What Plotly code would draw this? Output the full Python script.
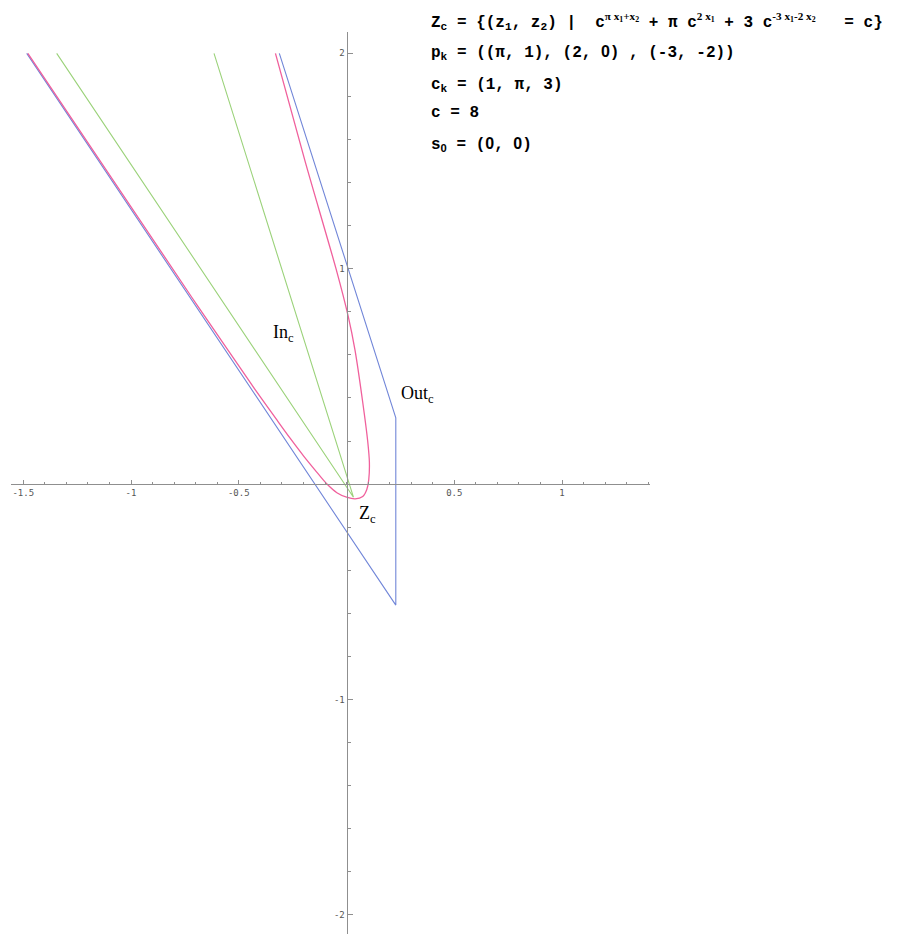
import plotly.graph_objects as go

# axis windows and tick labels
X_RANGE = [-1.557, 1.408]
Y_RANGE = [-2.089, 2.099]
x_ticks = [-1.5, -1, -0.5, 0.5, 1]
x_ticktext = ["-1.5", "-1", "-0.5", "0.5", "1"]
y_ticks = [-2, -1, 1, 2]
y_ticktext = ["-2", "-1", "1", "2"]

# Out_c polygon (blue)
out_x = [-1.484, 0.2285, 0.2285, -0.312]
out_y = [2.0, -0.562, 0.308, 2.0]

# In_c cone (green)
in_x = [-1.345, 0.032, -0.615]
in_y = [2.0, -0.061, 2.0]

# Z_c level curve (pink)
zc_x = [-1.479, -0.716, -0.551, -0.425, -0.325, -0.262, -0.199, -0.146,
        -0.091, -0.045, 0.0, 0.040, 0.075, 0.094, 0.103, 0.106, 0.098,
        0.075, 0.039, 0.008, -0.049, -0.190, -0.330]
zc_y = [2.0, 0.864, 0.623, 0.440, 0.300, 0.213, 0.130, 0.065,
        0.0, -0.040, -0.061, -0.069, -0.058, -0.025, 0.02, 0.10, 0.20,
        0.38, 0.623, 0.777, 1.0, 1.49, 2.0]

NB = "\u00a0"


def sup(s):
    return "<sup><span style='font-family:Liberation Serif'>" + s + "</span></sup>"


Z0 = "<span style='font-family:Liberation Sans'>0</span>"

header_lines = [
    "Z<sub>c</sub> = {(z<sub>1</sub>, z<sub>2</sub>) |" + NB + NB
    + "c" + sup("π x<sub>1</sub>+x<sub>2</sub>")
    + NB + "+ π c" + sup("2 x<sub>1</sub>")
    + " + 3 c" + sup("-3 x<sub>1</sub>-2 x<sub>2</sub>") + NB + NB + NB + "= c}",
    "p<sub>k</sub> = ((π, 1), (2, " + Z0 + ") , (-3, -2))",
    "c<sub>k</sub> = (1, π, 3)",
    "c = 8",
    "s<sub>" + Z0 + "</sub> = (" + Z0 + ", " + Z0 + ")",
]
header_y = [1.0111, 0.9767, 0.9412, 0.9102, 0.8758]

BLUE = "#7186d8"
GREEN = "#9bd27a"
PINK = "#f0609c"
AXIS = "#8f8f8f"

fig = go.Figure()

fig.add_trace(
    go.Scatter(x=out_x, y=out_y, mode="lines",
               line={"color": BLUE, "width": 1.1}, hoverinfo="skip")
)
fig.add_trace(
    go.Scatter(x=in_x, y=in_y, mode="lines",
               line={"color": GREEN, "width": 1.1}, hoverinfo="skip")
)
fig.add_trace(
    go.Scatter(x=zc_x, y=zc_y, mode="lines",
               line={"color": PINK, "width": 1.3, "shape": "spline", "smoothing": 0.8},
               hoverinfo="skip")
)

# curve labels
serif = {"family": "Liberation Serif, Times New Roman, serif", "size": 18, "color": "black"}
for text, lx, ly in [("In<sub>c</sub>", -0.350, 0.697),
                     ("Out<sub>c</sub>", 0.2436, 0.414),
                     ("Z<sub>c</sub>", 0.0487, -0.143)]:
    fig.add_annotation(x=lx, y=ly, xref="x", yref="y", text=text, showarrow=False,
                       xanchor="left", yanchor="middle", font=serif)

# header block
mono = {"family": "Liberation Mono, Courier New, monospace", "size": 16, "color": "black"}
for text, hy in zip(header_lines, header_y):
    fig.add_annotation(x=0.654, y=hy, xref="paper", yref="paper",
                       text="<b>" + text + "</b>", showarrow=False,
                       xanchor="left", yanchor="middle", font=mono)

tickfont = {"family": "DejaVu Sans Mono, monospace", "size": 9, "color": "#555555"}

# the page body adds 8px around the figure
fig.update_layout(
    width=890,
    height=927,
    autosize=False,
    showlegend=False,
    paper_bgcolor="white",
    plot_bgcolor="white",
    margin={"l": 3, "r": 248, "t": 24, "b": 1},
    xaxis={
        "range": X_RANGE,
        "anchor": "free",
        "position": (0 - Y_RANGE[0]) / (Y_RANGE[1] - Y_RANGE[0]),
        "showgrid": False,
        "zeroline": False,
        "showline": True,
        "linecolor": AXIS,
        "linewidth": 1,
        "tickmode": "array",
        "tickvals": x_ticks,
        "ticktext": x_ticktext,
        "ticks": "inside",
        "ticklen": 4,
        "tickcolor": AXIS,
        "tickfont": tickfont,
        "minor": {"tickmode": "linear", "tick0": 0, "dtick": 0.1,
                  "ticks": "inside", "ticklen": 2.5, "tickcolor": AXIS},
        "fixedrange": True,
    },
    yaxis={
        "range": Y_RANGE,
        "anchor": "free",
        "position": (0 - X_RANGE[0]) / (X_RANGE[1] - X_RANGE[0]),
        "showgrid": False,
        "zeroline": False,
        "showline": True,
        "linecolor": AXIS,
        "linewidth": 1,
        "tickmode": "array",
        "tickvals": y_ticks,
        "ticktext": y_ticktext,
        "ticks": "inside",
        "ticklen": 5,
        "tickcolor": AXIS,
        "tickfont": tickfont,
        "minor": {"tickmode": "linear", "tick0": 0, "dtick": 0.2,
                  "ticks": "inside", "ticklen": 3, "tickcolor": AXIS},
        "fixedrange": True,
    },
)

fig.write_html("out.html")
